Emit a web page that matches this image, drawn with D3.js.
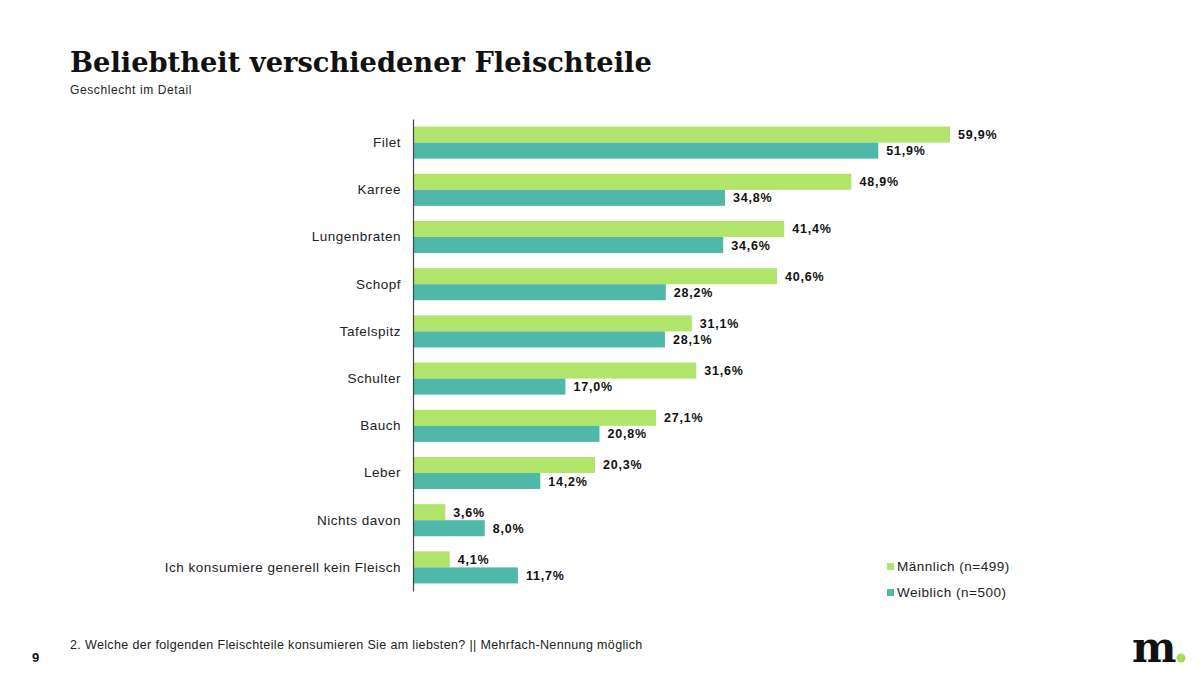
<!DOCTYPE html>
<html><head><meta charset="utf-8">
<script src="https://cdn.jsdelivr.net/npm/d3@7"></script>
<style>body{margin:0;background:#fff;} svg{display:block;}</style>
</head><body>
<svg id="c" width="1203" height="677"></svg>
<script>
const categories = ["Filet","Karree","Lungenbraten","Schopf","Tafelspitz","Schulter","Bauch","Leber","Nichts davon","Ich konsumiere generell kein Fleisch"];
const maleValues = [59.9,48.9,41.4,40.6,31.1,31.6,27.1,20.3,3.6,4.1];
const femaleValues = [51.9,34.8,34.6,28.2,28.1,17.0,20.8,14.2,8.0,11.7];
const seriesNames = ["Männlich (n=499)","Weiblich (n=500)"];
const colors = ["#b0e46b","#4fb8a8"];

const svg = d3.select("#c");
const font = "Arial, 'Liberation Sans', sans-serif";

// title
const title = svg.append("text").attr("x",70).attr("y",72)
  .attr("font-family","'DejaVu Serif', Georgia, serif").attr("font-weight","bold")
  .attr("font-size",28).attr("fill","#111").text("Beliebtheit verschiedener Fleischteile");
const tw = title.node().getComputedTextLength();
title.attr("font-size", 28*582/tw);

svg.append("text").attr("x",70).attr("y",94).attr("font-family",font).attr("font-size",12)
  .attr("letter-spacing",0.6).attr("fill","#222").text("Geschlecht im Detail");

const x = d3.scaleLinear().domain([0,100]).range([413,413+896.5]);
const y = d3.scaleBand().domain(categories).range([119,591]).paddingInner(0.32).paddingOuter(0.16);
const sub = d3.scaleBand().domain([0,1]).range([0,y.bandwidth()]);

const g = svg.append("g");
const data = categories.map((c,i)=>({c, v:[maleValues[i],femaleValues[i]]}));
const grp = g.selectAll("g.cat").data(data).join("g").attr("transform",d=>`translate(0,${y(d.c)})`);
[0,1].forEach(s=>{
  grp.append("rect").attr("x",x(0)).attr("y",sub(s)).attr("width",d=>x(d.v[s])-x(0))
    .attr("height",sub.bandwidth()).attr("fill",colors[s]);
  grp.append("text").attr("x",d=>x(d.v[s])+8).attr("y",sub(s)+sub.bandwidth()/2+4.5)
    .attr("font-family",font).attr("font-weight","bold").attr("font-size",12.5).attr("letter-spacing",0.8)
    .attr("fill","#111")
    .text(d=>d.v[s].toFixed(1).replace(".",",")+"%");
});

const yAxis = d3.axisLeft(y).tickSize(0).tickPadding(12);
const ax = svg.append("g").attr("transform",`translate(${x(0)},0)`).call(yAxis);
ax.select(".domain").attr("stroke","#444").attr("stroke-width",1.2);
ax.selectAll("text").attr("font-family",font).attr("font-size",13.5).attr("letter-spacing",0.5).attr("fill","#222");

// legend
const leg = svg.append("g");
seriesNames.forEach((n,i)=>{
  leg.append("rect").attr("x",887).attr("y",563+i*26).attr("width",7).attr("height",7).attr("fill",colors[i]);
  leg.append("text").attr("x",897).attr("y",571+i*26).attr("font-family",font).attr("font-size",13.5)
    .attr("letter-spacing",0.5).attr("fill","#222").text(n);
});

svg.append("text").attr("x",70).attr("y",649).attr("font-family",font).attr("font-size",12.5)
  .attr("letter-spacing",0.36).attr("fill","#222")
  .text("2. Welche der folgenden Fleischteile konsumieren Sie am liebsten? || Mehrfach-Nennung möglich");
svg.append("text").attr("x",32).attr("y",662).attr("font-family",font).attr("font-weight","bold")
  .attr("font-size",13).attr("fill","#111").text("9");

// logo
svg.append("text").attr("x",1132).attr("y",662).attr("font-family","'DejaVu Serif', Georgia, serif")
  .attr("font-weight","bold").attr("font-size",42).attr("fill","#111").text("m");
svg.append("circle").attr("cx",1181).attr("cy",658).attr("r",4.5).attr("fill","#a8dc5e");
</script>
</body></html>
